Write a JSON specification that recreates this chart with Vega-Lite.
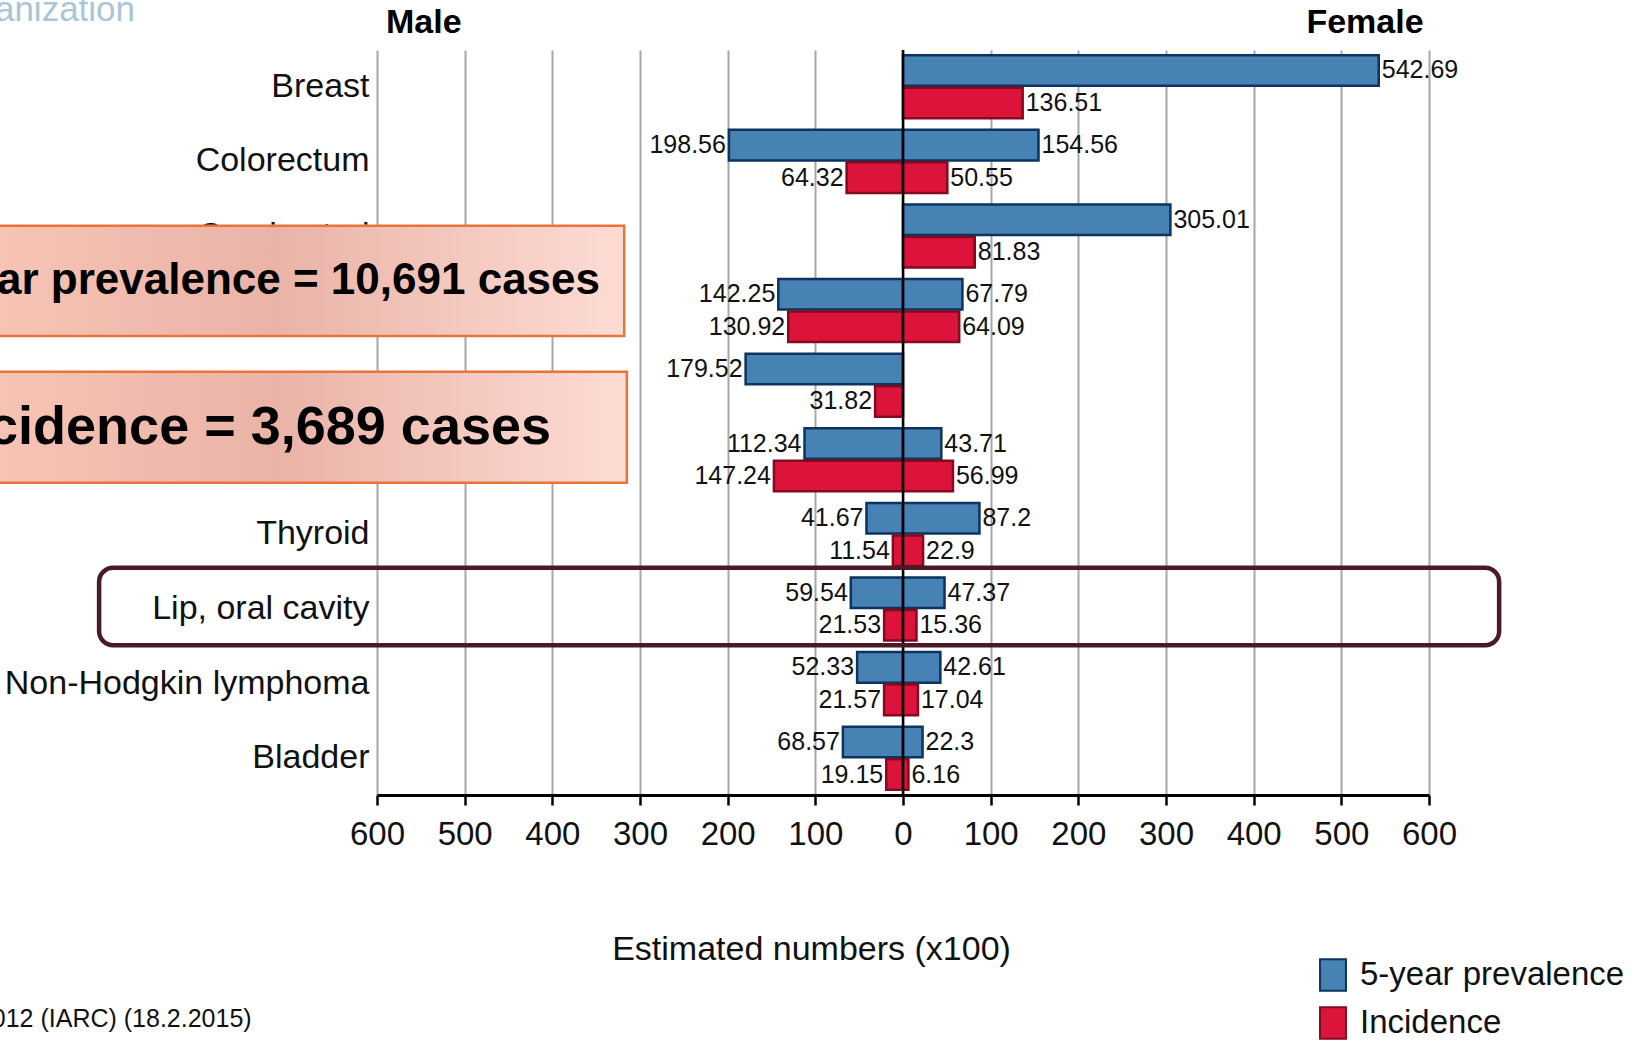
{
  "$schema": "https://vega.github.io/schema/vega-lite/v6.json",
  "width": 1052,
  "height": 745,
  "autosize": {"type": "none"},
  "padding": {"left": 377, "top": 50, "right": 216, "bottom": 246},
  "background": "white",
  "config": {"view": {"stroke": null}, "font": "Liberation Sans"},
  "datasets": {
    "cancer": [
      {"site": "Breast", "sex": "Female", "measure": "5-year prevalence", "value": 542.69},
      {"site": "Breast", "sex": "Female", "measure": "Incidence", "value": 136.51},
      {"site": "Colorectum", "sex": "Male", "measure": "5-year prevalence", "value": -198.56},
      {"site": "Colorectum", "sex": "Male", "measure": "Incidence", "value": -64.32},
      {"site": "Colorectum", "sex": "Female", "measure": "5-year prevalence", "value": 154.56},
      {"site": "Colorectum", "sex": "Female", "measure": "Incidence", "value": 50.55},
      {"site": "Cervix uteri", "sex": "Female", "measure": "5-year prevalence", "value": 305.01},
      {"site": "Cervix uteri", "sex": "Female", "measure": "Incidence", "value": 81.83},
      {"site": "Lung", "sex": "Male", "measure": "5-year prevalence", "value": -142.25},
      {"site": "Lung", "sex": "Male", "measure": "Incidence", "value": -130.92},
      {"site": "Lung", "sex": "Female", "measure": "5-year prevalence", "value": 67.79},
      {"site": "Lung", "sex": "Female", "measure": "Incidence", "value": 64.09},
      {"site": "Prostate", "sex": "Male", "measure": "5-year prevalence", "value": -179.52},
      {"site": "Prostate", "sex": "Male", "measure": "Incidence", "value": -31.82},
      {"site": "Liver", "sex": "Male", "measure": "5-year prevalence", "value": -112.34},
      {"site": "Liver", "sex": "Male", "measure": "Incidence", "value": -147.24},
      {"site": "Liver", "sex": "Female", "measure": "5-year prevalence", "value": 43.71},
      {"site": "Liver", "sex": "Female", "measure": "Incidence", "value": 56.99},
      {"site": "Thyroid", "sex": "Male", "measure": "5-year prevalence", "value": -41.67},
      {"site": "Thyroid", "sex": "Male", "measure": "Incidence", "value": -11.54},
      {"site": "Thyroid", "sex": "Female", "measure": "5-year prevalence", "value": 87.2},
      {"site": "Thyroid", "sex": "Female", "measure": "Incidence", "value": 22.9},
      {"site": "Lip, oral cavity", "sex": "Male", "measure": "5-year prevalence", "value": -59.54},
      {"site": "Lip, oral cavity", "sex": "Male", "measure": "Incidence", "value": -21.53},
      {"site": "Lip, oral cavity", "sex": "Female", "measure": "5-year prevalence", "value": 47.37},
      {"site": "Lip, oral cavity", "sex": "Female", "measure": "Incidence", "value": 15.36},
      {"site": "Non-Hodgkin lymphoma", "sex": "Male", "measure": "5-year prevalence", "value": -52.33},
      {"site": "Non-Hodgkin lymphoma", "sex": "Male", "measure": "Incidence", "value": -21.57},
      {"site": "Non-Hodgkin lymphoma", "sex": "Female", "measure": "5-year prevalence", "value": 42.61},
      {"site": "Non-Hodgkin lymphoma", "sex": "Female", "measure": "Incidence", "value": 17.04},
      {"site": "Bladder", "sex": "Male", "measure": "5-year prevalence", "value": -68.57},
      {"site": "Bladder", "sex": "Male", "measure": "Incidence", "value": -19.15},
      {"site": "Bladder", "sex": "Female", "measure": "5-year prevalence", "value": 22.3},
      {"site": "Bladder", "sex": "Female", "measure": "Incidence", "value": 6.16}
    ]
  },
  "layer": [
    {
      "data": {"name": "cancer"},
      "transform": [{"calculate": "abs(datum.value)", "as": "absval"}],
      "encoding": {
        "y": {
          "field": "site", "type": "nominal",
          "sort": ["Breast", "Colorectum", "Cervix uteri", "Lung", "Prostate", "Liver", "Thyroid", "Lip, oral cavity", "Non-Hodgkin lymphoma", "Bladder"],
          "scale": {"paddingInner": 0.155, "paddingOuter": 0.07},
          "axis": {"title": null, "domain": false, "ticks": false, "grid": false, "labelFontSize": 34, "labelPadding": 8, "labelColor": "#111", "labelLimit": 600}
        },
        "yOffset": {"field": "measure", "type": "nominal", "sort": ["5-year prevalence", "Incidence"], "scale": {"paddingInner": 0.06}},
        "x": {
          "field": "value", "type": "quantitative",
          "scale": {"domain": [-600, 600], "nice": false},
          "axis": {
            "values": [-600, -500, -400, -300, -200, -100, 0, 100, 200, 300, 400, 500, 600],
            "labelExpr": "abs(datum.value)",
            "labelOverlap": false,
            "labelFlush": false,
            "grid": true, "gridColor": "#a8a8a8", "gridWidth": 2,
            "domainColor": "#000", "domainWidth": 3,
            "tickColor": "#000", "tickWidth": 2.5, "tickSize": 10,
            "labelFontSize": 33, "labelPadding": 13, "labelColor": "#111",
            "title": "Estimated numbers (x100)", "titleFontSize": 34, "titleFontWeight": "normal", "titleColor": "#111",
            "titleX": 434, "titleY": 154, "titleBaseline": "middle", "titleAlign": "center"
          }
        }
      },
      "layer": [
        {
          "mark": {"type": "bar", "strokeWidth": 2.5},
          "encoding": {
            "color": {
              "field": "measure", "type": "nominal",
              "scale": {"domain": ["5-year prevalence", "Incidence"], "range": ["#4682b4", "#dc143c"]},
              "legend": {"orient": "none", "legendX": 939, "legendY": 908, "title": null, "labelFontSize": 33, "labelColor": "#111", "labelLimit": 500, "symbolType": "M-0.82,-1H0.82V1H-0.82Z", "symbolSize": 1000, "rowPadding": 8, "labelOffset": 10, "padding": 0, "symbolStrokeWidth": 2, "symbolOpacity": 1}
            },
            "stroke": {
              "field": "measure", "type": "nominal",
              "scale": {"domain": ["5-year prevalence", "Incidence"], "range": ["#0d335f", "#850a20"]},
              "legend": {"orient": "none", "legendX": 939, "legendY": 908, "title": null, "labelFontSize": 33, "labelColor": "#111", "labelLimit": 500, "symbolType": "M-0.82,-1H0.82V1H-0.82Z", "symbolSize": 1000, "rowPadding": 8, "labelOffset": 10, "padding": 0, "symbolStrokeWidth": 2, "symbolOpacity": 1}
            }
          }
        },
        {
          "transform": [{"filter": "datum.value < 0"}],
          "mark": {"type": "text", "align": "right", "baseline": "middle", "dx": -3, "fontSize": 25, "color": "#111"},
          "encoding": {"text": {"field": "absval", "type": "quantitative", "format": ".2~f"}}
        },
        {
          "transform": [{"filter": "datum.value > 0"}],
          "mark": {"type": "text", "align": "left", "baseline": "middle", "dx": 3, "fontSize": 25, "color": "#111"},
          "encoding": {"text": {"field": "absval", "type": "quantitative", "format": ".2~f"}}
        }
      ]
    },
    {
      "data": {"values": [{"note": "annotation"}]},
      "layer": [
        {
          "mark": {"type": "rule", "color": "#000", "strokeWidth": 2.5},
          "encoding": {"x": {"datum": 0, "type": "quantitative", "scale": {"domain": [-600, 600], "nice": false}}}
        },
        {
          "mark": {"type": "rect", "stroke": "#e8743b", "strokeWidth": 2.5,
            "fill": {"gradient": "linear", "x1": 0, "y1": 0, "x2": 1, "y2": 0, "stops": [{"offset": 0, "color": "#f6c4b5"}, {"offset": 0.45, "color": "#eab3a7"}, {"offset": 1, "color": "#fddcd4"}]}},
          "encoding": {
            "x": {"datum": -1040, "type": "quantitative"}, "x2": {"datum": -318},
            "y": {"datum": 2.36, "type": "quantitative", "scale": {"domain": [0, 10], "reverse": true, "nice": false, "zero": false}, "axis": null}, "y2": {"datum": 3.84}
          }
        },
        {
          "mark": {"type": "rect", "stroke": "#e8743b", "strokeWidth": 2.5,
            "fill": {"gradient": "linear", "x1": 0, "y1": 0, "x2": 1, "y2": 0, "stops": [{"offset": 0, "color": "#f6c4b5"}, {"offset": 0.45, "color": "#eab3a7"}, {"offset": 1, "color": "#fddcd4"}]}},
          "encoding": {
            "x": {"datum": -1040, "type": "quantitative"}, "x2": {"datum": -315},
            "y": {"datum": 4.32, "type": "quantitative", "axis": null}, "y2": {"datum": 5.81}
          }
        },
        {
          "mark": {"type": "text", "align": "right", "baseline": "middle", "fontSize": 44, "fontWeight": "bold", "color": "#000"},
          "encoding": {
            "x": {"datum": -345.6, "type": "quantitative"},
            "y": {"datum": 3.1, "type": "quantitative", "axis": null},
            "text": {"value": "Lip, oral cavity 5-year prevalence = 10,691 cases"}
          }
        },
        {
          "mark": {"type": "text", "align": "right", "baseline": "middle", "fontSize": 54, "fontWeight": "bold", "color": "#000"},
          "encoding": {
            "x": {"datum": -401.5, "type": "quantitative"},
            "y": {"datum": 5.07, "type": "quantitative", "axis": null},
            "text": {"value": "Incidence = 3,689 cases"}
          }
        },
        {
          "mark": {"type": "rect", "filled": false, "stroke": "#4a1a28", "strokeWidth": 4.5, "cornerRadius": 14},
          "encoding": {
            "x": {"datum": -917, "type": "quantitative"}, "x2": {"datum": 680},
            "y": {"datum": 6.95, "type": "quantitative", "axis": null}, "y2": {"datum": 7.99}
          }
        },
        {
          "mark": {"type": "text", "align": "center", "baseline": "middle", "fontSize": 34, "fontWeight": "bold", "color": "#000"},
          "encoding": {
            "x": {"datum": -546.6, "type": "quantitative"},
            "y": {"datum": -0.36, "type": "quantitative", "axis": null},
            "text": {"value": "Male"}
          }
        },
        {
          "mark": {"type": "text", "align": "center", "baseline": "middle", "fontSize": 34, "fontWeight": "bold", "color": "#000"},
          "encoding": {
            "x": {"datum": 527, "type": "quantitative"},
            "y": {"datum": -0.36, "type": "quantitative", "axis": null},
            "text": {"value": "Female"}
          }
        },
        {
          "mark": {"type": "text", "align": "right", "baseline": "alphabetic", "fontSize": 35, "color": "#a8c6d6"},
          "encoding": {
            "x": {"datum": -876, "type": "quantitative"},
            "y": {"datum": -0.389, "type": "quantitative", "axis": null},
            "text": {"value": "World Health Organization"}
          }
        },
        {
          "mark": {"type": "text", "align": "right", "baseline": "alphabetic", "fontSize": 25, "color": "#111"},
          "encoding": {
            "x": {"datum": -743, "type": "quantitative"},
            "y": {"datum": 13.11, "type": "quantitative", "axis": null},
            "text": {"value": "GLOBOCAN 2012 (IARC) (18.2.2015)"}
          }
        }
      ]
    }
  ],
  "resolve": {"scale": {"y": "independent"}}
}
